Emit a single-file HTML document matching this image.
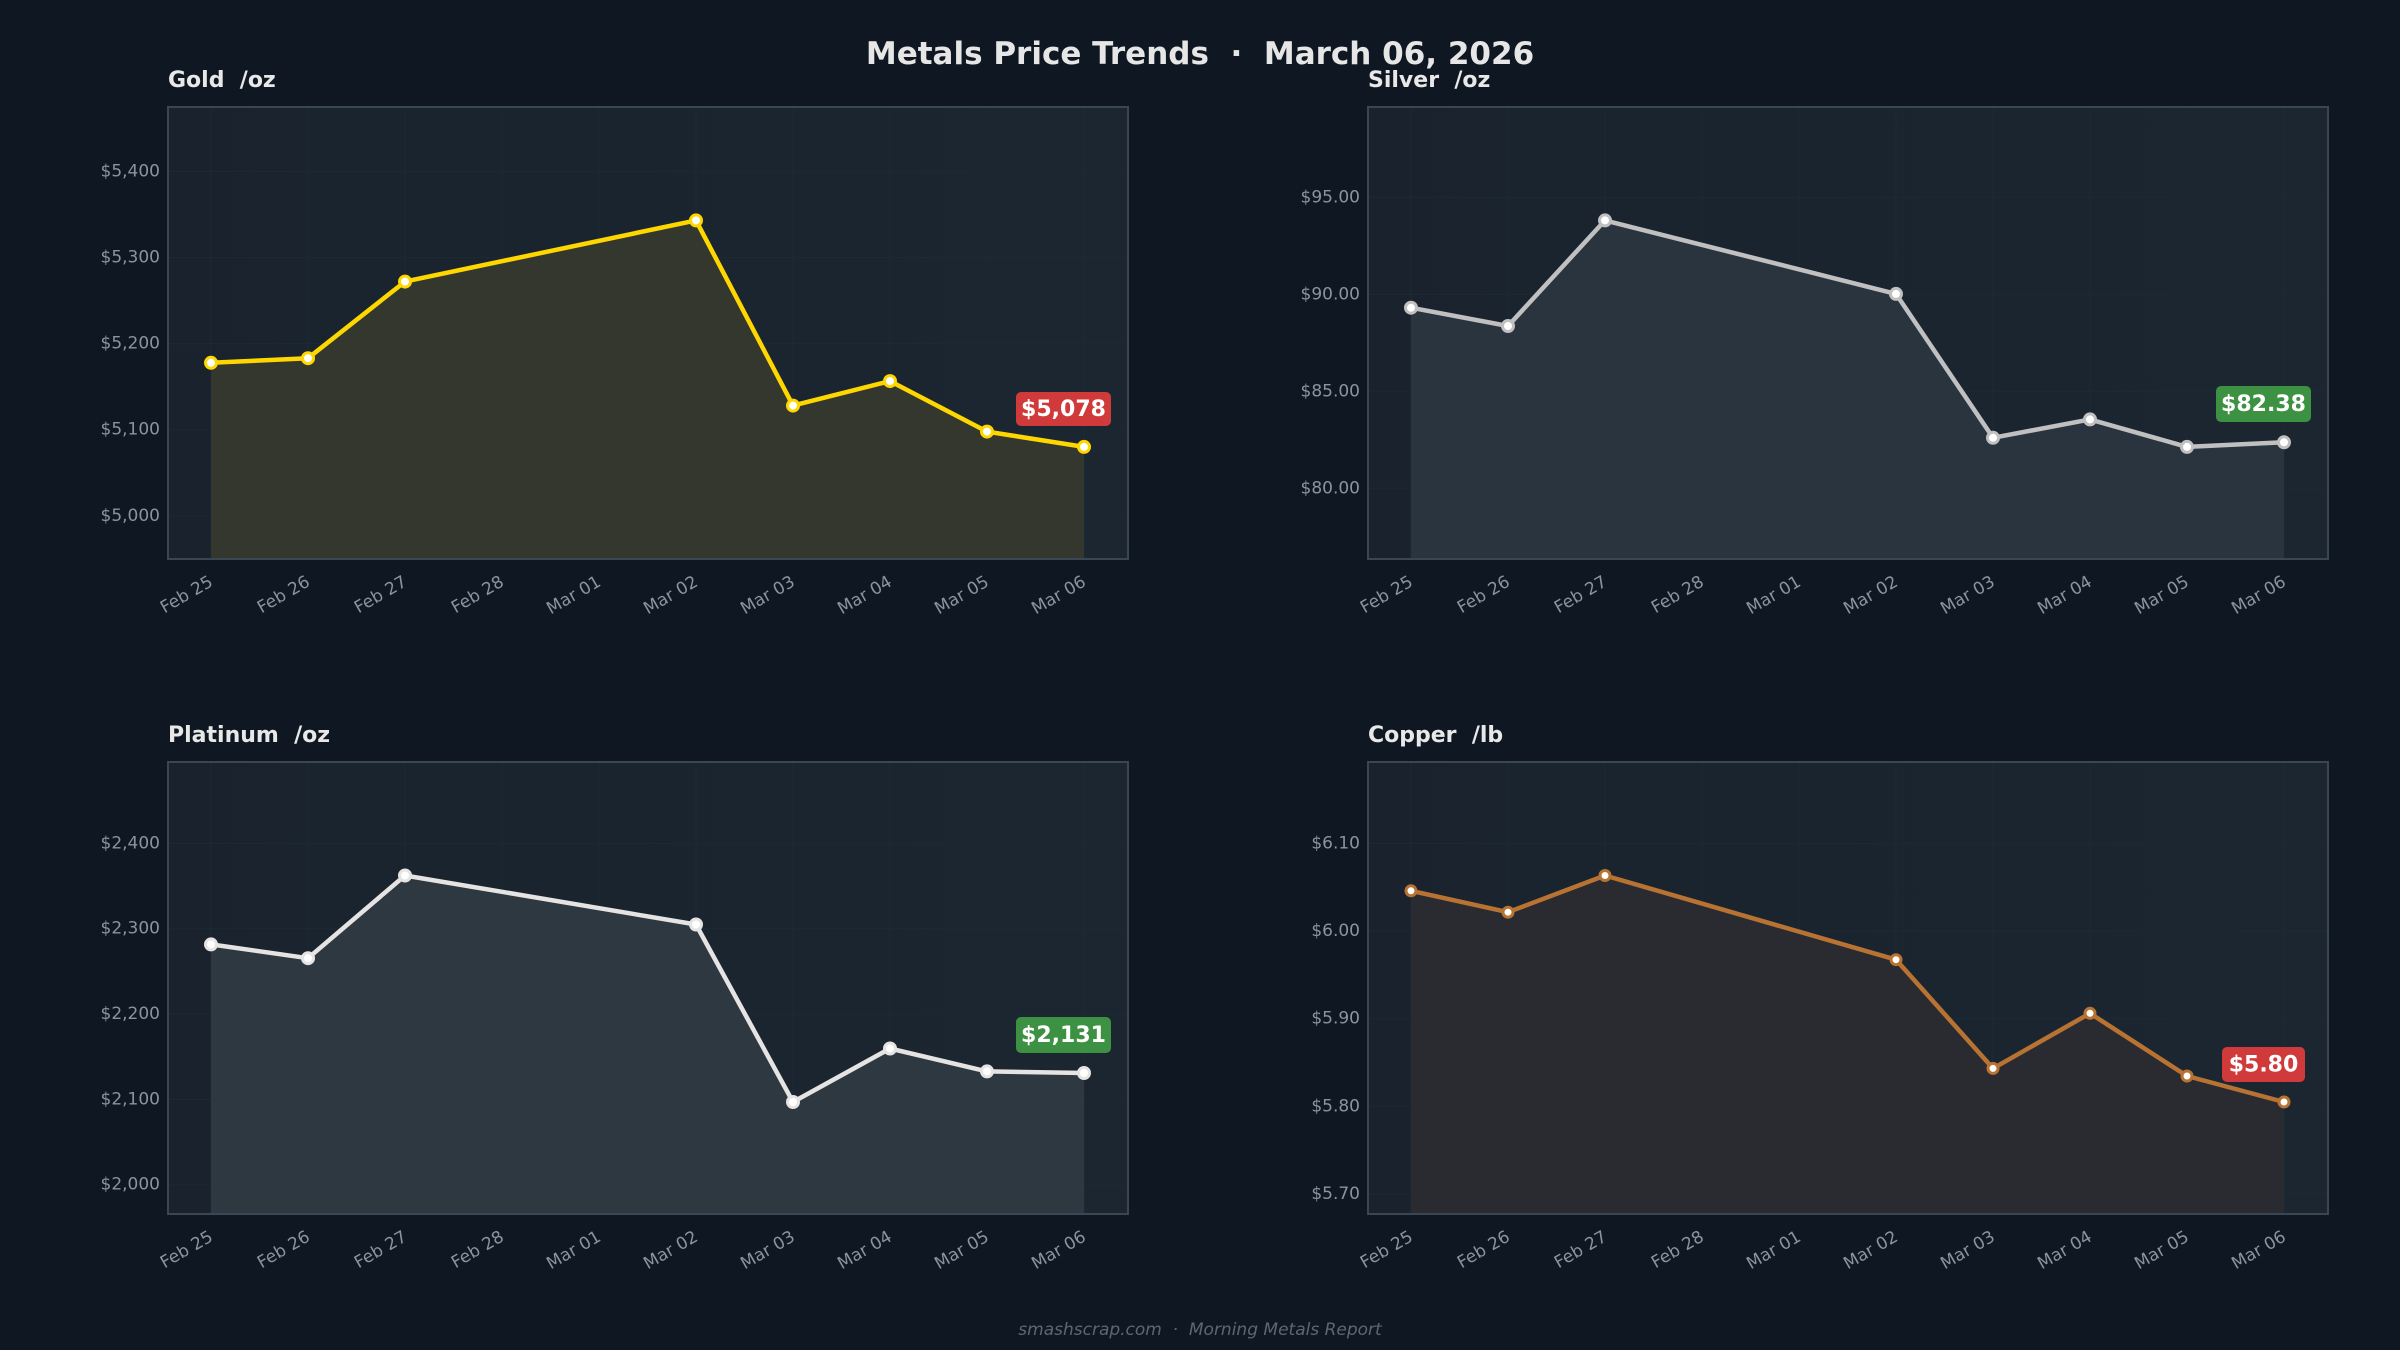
<!DOCTYPE html>
<html><head><meta charset="utf-8"><style>
html,body{margin:0;padding:0;background:#0f1822;}
svg{display:block;font-family:"DejaVu Sans","Liberation Sans",sans-serif;}
text{white-space:pre;}
.yt{fill:#8a949f;font-size:17px;text-anchor:end;dominant-baseline:middle;}
.xt{fill:#8a949f;font-size:17px;text-anchor:end;}
.pt{fill:#e8e8e8;font-size:22px;font-weight:bold;}
.bd{fill:#fff;font-size:22px;font-weight:bold;text-anchor:middle;dominant-baseline:middle;}
.g{stroke:#1f2b36;stroke-width:1;opacity:0.7;}
</style></head><body>
<svg width="2400" height="1350" viewBox="0 0 2400 1350">
<defs>
<linearGradient id="ab" x1="0" x2="1" y1="0" y2="0"><stop offset="0" stop-color="#1a232d"/><stop offset="1" stop-color="#1b2631"/></linearGradient>
</defs>
<rect width="2400" height="1350" fill="#0f1822"/>
<text x="1200" y="64" text-anchor="middle" fill="#e6e6e6" font-size="31" font-weight="bold">Metals Price Trends  ·  March 06, 2026</text>

<!-- GOLD -->
<text class="pt" x="168" y="87">Gold  /oz</text>
<rect x="168" y="107" width="960" height="452" fill="url(#ab)" stroke="#3a4654" stroke-width="2"/>
<g class="g"><path d="M169 515.8H1127M169 429.7H1127M169 343.6H1127M169 257.5H1127M169 171.4H1127M211 108V558M308 108V558M405 108V558M502 108V558M599 108V558M696 108V558M793 108V558M890 108V558M987 108V558M1084 108V558"/></g>
<polygon points="211,362.8 308,358.2 405,281.6 696,220.4 793,405.6 890,381.1 987,431.6 1084,446.9 1084,558 211,558" fill="#33372e"/>
<polyline points="211,362.8 308,358.2 405,281.6 696,220.4 793,405.6 890,381.1 987,431.6 1084,446.9" fill="none" stroke="#ffd700" stroke-width="4.5" stroke-linejoin="round"/>
<g fill="#fff" stroke="#ffd700" stroke-width="3"><circle cx="211" cy="362.8" r="5.5"/><circle cx="308" cy="358.2" r="5.5"/><circle cx="405" cy="281.6" r="5.5"/><circle cx="696" cy="220.4" r="5.5"/><circle cx="793" cy="405.6" r="5.5"/><circle cx="890" cy="381.1" r="5.5"/><circle cx="987" cy="431.6" r="5.5"/><circle cx="1084" cy="446.9" r="5.5"/></g>
<text class="yt" x="160" y="515.8">$5,000</text><text class="yt" x="160" y="429.7">$5,100</text><text class="yt" x="160" y="343.6">$5,200</text><text class="yt" x="160" y="257.5">$5,300</text><text class="yt" x="160" y="171.4">$5,400</text>
<rect x="1016" y="392" width="95" height="34" rx="5" fill="#d13a3a"/><text class="bd" x="1063.5" y="410">$5,078</text>

<!-- SILVER -->
<text class="pt" x="1368" y="87">Silver  /oz</text>
<rect x="1368" y="107" width="960" height="452" fill="url(#ab)" stroke="#3a4654" stroke-width="2"/>
<g class="g"><path d="M1369 488.3H2327M1369 391.3H2327M1369 294.4H2327M1369 197.4H2327M1411 108V558M1508 108V558M1605 108V558M1702 108V558M1799 108V558M1896 108V558M1993 108V558M2090 108V558M2187 108V558M2284 108V558"/></g>
<polygon points="1411,307.7 1508,326 1605,220.4 1896,293.9 1993,437.8 2090,419.4 2187,446.9 2284,442.3 2284,558 1411,558" fill="#2a343e"/>
<polyline points="1411,307.7 1508,326 1605,220.4 1896,293.9 1993,437.8 2090,419.4 2187,446.9 2284,442.3" fill="none" stroke="#c0c0c0" stroke-width="4.5" stroke-linejoin="round"/>
<g fill="#fff" stroke="#c0c0c0" stroke-width="3"><circle cx="1411" cy="307.7" r="5.5"/><circle cx="1508" cy="326" r="5.5"/><circle cx="1605" cy="220.4" r="5.5"/><circle cx="1896" cy="293.9" r="5.5"/><circle cx="1993" cy="437.8" r="5.5"/><circle cx="2090" cy="419.4" r="5.5"/><circle cx="2187" cy="446.9" r="5.5"/><circle cx="2284" cy="442.3" r="5.5"/></g>
<text class="yt" x="1360" y="488.3">$80.00</text><text class="yt" x="1360" y="391.3">$85.00</text><text class="yt" x="1360" y="294.4">$90.00</text><text class="yt" x="1360" y="197.4">$95.00</text>
<rect x="2216" y="386" width="95" height="36" rx="5" fill="#3d9142"/><text class="bd" x="2263.5" y="405">$82.38</text>

<!-- PLATINUM -->
<text class="pt" x="168" y="742">Platinum  /oz</text>
<rect x="168" y="762" width="960" height="452" fill="url(#ab)" stroke="#3a4654" stroke-width="2"/>
<g class="g"><path d="M169 1184.7H1127M169 1099.4H1127M169 1014.1H1127M169 928.7H1127M169 843.4H1127M211 763V1213M308 763V1213M405 763V1213M502 763V1213M599 763V1213M696 763V1213M793 763V1213M890 763V1213M987 763V1213M1084 763V1213"/></g>
<polygon points="211,944.4 308,958.2 405,875.5 696,924.5 793,1102 890,1048.5 987,1071.4 1084,1073 1084,1213 211,1213" fill="#2e3841"/>
<polyline points="211,944.4 308,958.2 405,875.5 696,924.5 793,1102 890,1048.5 987,1071.4 1084,1073" fill="none" stroke="#e5e4e2" stroke-width="4.5" stroke-linejoin="round"/>
<g fill="#fff" stroke="#e5e4e2" stroke-width="3"><circle cx="211" cy="944.4" r="5.5"/><circle cx="308" cy="958.2" r="5.5"/><circle cx="405" cy="875.5" r="5.5"/><circle cx="696" cy="924.5" r="5.5"/><circle cx="793" cy="1102" r="5.5"/><circle cx="890" cy="1048.5" r="5.5"/><circle cx="987" cy="1071.4" r="5.5"/><circle cx="1084" cy="1073" r="5.5"/></g>
<text class="yt" x="160" y="1184.7">$2,000</text><text class="yt" x="160" y="1099.4">$2,100</text><text class="yt" x="160" y="1014.1">$2,200</text><text class="yt" x="160" y="928.7">$2,300</text><text class="yt" x="160" y="843.4">$2,400</text>
<rect x="1016" y="1017" width="95" height="36" rx="5" fill="#3d9142"/><text class="bd" x="1063.5" y="1036">$2,131</text>

<!-- COPPER -->
<text class="pt" x="1368" y="742">Copper  /lb</text>
<rect x="1368" y="762" width="960" height="452" fill="url(#ab)" stroke="#3a4654" stroke-width="2"/>
<g class="g"><path d="M1369 1193.9H2327M1369 1106.3H2327M1369 1018.7H2327M1369 931H2327M1369 843.4H2327M1411 763V1213M1508 763V1213M1605 763V1213M1702 763V1213M1799 763V1213M1896 763V1213M1993 763V1213M2090 763V1213M2187 763V1213M2284 763V1213"/></g>
<polygon points="1411,890.8 1508,912.2 1605,875.5 1896,959.7 1993,1068.4 2090,1013.3 2187,1076 2284,1102 2284,1213 1411,1213" fill="#2a2b30"/>
<polyline points="1411,890.8 1508,912.2 1605,875.5 1896,959.7 1993,1068.4 2090,1013.3 2187,1076 2284,1102" fill="none" stroke="#b87333" stroke-width="4.5" stroke-linejoin="round"/>
<g fill="#fff" stroke="#b87333" stroke-width="3"><circle cx="1411" cy="890.8" r="5"/><circle cx="1508" cy="912.2" r="5"/><circle cx="1605" cy="875.5" r="5"/><circle cx="1896" cy="959.7" r="5"/><circle cx="1993" cy="1068.4" r="5"/><circle cx="2090" cy="1013.3" r="5"/><circle cx="2187" cy="1076" r="5"/><circle cx="2284" cy="1102" r="5"/></g>
<text class="yt" x="1360" y="1193.9">$5.70</text><text class="yt" x="1360" y="1106.3">$5.80</text><text class="yt" x="1360" y="1018.7">$5.90</text><text class="yt" x="1360" y="931">$6.00</text><text class="yt" x="1360" y="843.4">$6.10</text>
<rect x="2222" y="1047" width="83" height="35" rx="5" fill="#d13a3a"/><text class="bd" x="2263.5" y="1065.5">$5.80</text>

<!-- X tick labels -->
<g class="xt">
<text transform="translate(214,585) rotate(-30)">Feb 25</text><text transform="translate(311,585) rotate(-30)">Feb 26</text><text transform="translate(408,585) rotate(-30)">Feb 27</text><text transform="translate(505,585) rotate(-30)">Feb 28</text><text transform="translate(602,585) rotate(-30)">Mar 01</text><text transform="translate(699,585) rotate(-30)">Mar 02</text><text transform="translate(796,585) rotate(-30)">Mar 03</text><text transform="translate(893,585) rotate(-30)">Mar 04</text><text transform="translate(990,585) rotate(-30)">Mar 05</text><text transform="translate(1087,585) rotate(-30)">Mar 06</text>
<text transform="translate(1414,585) rotate(-30)">Feb 25</text><text transform="translate(1511,585) rotate(-30)">Feb 26</text><text transform="translate(1608,585) rotate(-30)">Feb 27</text><text transform="translate(1705,585) rotate(-30)">Feb 28</text><text transform="translate(1802,585) rotate(-30)">Mar 01</text><text transform="translate(1899,585) rotate(-30)">Mar 02</text><text transform="translate(1996,585) rotate(-30)">Mar 03</text><text transform="translate(2093,585) rotate(-30)">Mar 04</text><text transform="translate(2190,585) rotate(-30)">Mar 05</text><text transform="translate(2287,585) rotate(-30)">Mar 06</text>
<text transform="translate(214,1240) rotate(-30)">Feb 25</text><text transform="translate(311,1240) rotate(-30)">Feb 26</text><text transform="translate(408,1240) rotate(-30)">Feb 27</text><text transform="translate(505,1240) rotate(-30)">Feb 28</text><text transform="translate(602,1240) rotate(-30)">Mar 01</text><text transform="translate(699,1240) rotate(-30)">Mar 02</text><text transform="translate(796,1240) rotate(-30)">Mar 03</text><text transform="translate(893,1240) rotate(-30)">Mar 04</text><text transform="translate(990,1240) rotate(-30)">Mar 05</text><text transform="translate(1087,1240) rotate(-30)">Mar 06</text>
<text transform="translate(1414,1240) rotate(-30)">Feb 25</text><text transform="translate(1511,1240) rotate(-30)">Feb 26</text><text transform="translate(1608,1240) rotate(-30)">Feb 27</text><text transform="translate(1705,1240) rotate(-30)">Feb 28</text><text transform="translate(1802,1240) rotate(-30)">Mar 01</text><text transform="translate(1899,1240) rotate(-30)">Mar 02</text><text transform="translate(1996,1240) rotate(-30)">Mar 03</text><text transform="translate(2093,1240) rotate(-30)">Mar 04</text><text transform="translate(2190,1240) rotate(-30)">Mar 05</text><text transform="translate(2287,1240) rotate(-30)">Mar 06</text>
</g>

<text x="1200" y="1335" text-anchor="middle" fill="#5c6772" font-size="17" font-style="italic">smashscrap.com  ·  Morning Metals Report</text>
</svg>
</body></html>
